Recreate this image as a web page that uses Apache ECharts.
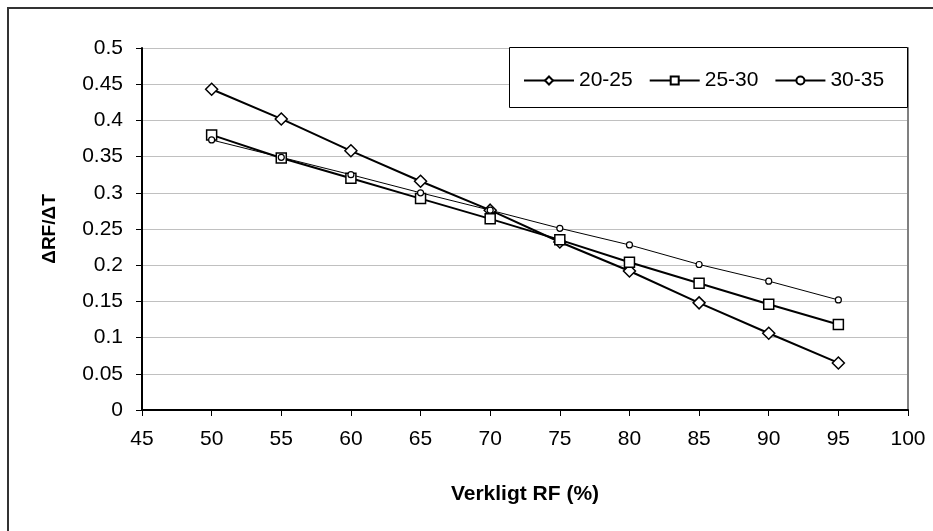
<!DOCTYPE html>
<html>
<head>
<meta charset="utf-8">
<script src="https://cdn.jsdelivr.net/npm/echarts@6/dist/echarts.min.js"></script>
<style>
  html, body { margin: 0; padding: 0; background: #fff; }
  #main { width: 933px; height: 531px; }
</style>
</head>
<body>
<div id="main"></div>
<script>
// x-värden (Verkligt RF %)
var rfValues = [50, 55, 60, 65, 70, 75, 80, 85, 90, 95]
// serier
var s2025 = [0.443, 0.402, 0.358, 0.316, 0.276, 0.232, 0.192, 0.148, 0.106, 0.065]
var s2530 = [0.380, 0.348, 0.320, 0.292, 0.264, 0.235, 0.204, 0.175, 0.146, 0.118]
var s3035 = [0.373, 0.349, 0.325, 0.300, 0.276, 0.251, 0.228, 0.201, 0.178, 0.152]
var seriesNames = ['20-25', '25-30', '30-35']

var font = 'Liberation Sans, Arial, sans-serif'

function pairs(ys) {
  return rfValues.map(function (x, i) { return [x, ys[i]] })
}

var myChart = echarts.init(document.getElementById('main'))
myChart.setOption({
  backgroundColor: '#fff',
  animation: false,
  grid: { left: 142, right: 25, top: 48, bottom: 121 },
  graphic: [
    {
      type: 'rect',
      shape: { x: 8, y: 8, width: 1000, height: 600 },
      style: { fill: 'none', stroke: '#333', lineWidth: 2 }
    },
    {
      type: 'rect',
      shape: { x: 509.5, y: 47.5, width: 398, height: 60 },
      style: { fill: '#fff', stroke: '#000', lineWidth: 1 },
      z: 5
    }
  ],
  legend: {
    left: 518,
    top: 65,
    itemWidth: 50,
    itemHeight: 10,
    itemGap: 16,
    z: 10,
    textStyle: { fontFamily: font, fontSize: 21, color: '#000' },
    data: seriesNames
  },
  xAxis: {
    type: 'value',
    min: 45,
    max: 100,
    interval: 5,
    name: 'Verkligt RF (%)',
    nameLocation: 'middle',
    nameGap: 74,
    nameTextStyle: { fontFamily: font, fontSize: 21, fontWeight: 'bold', color: '#000' },
    axisLine: { lineStyle: { color: '#000', width: 2 } },
    axisTick: { show: true, length: 6, lineStyle: { color: '#000' } },
    axisLabel: { fontFamily: font, fontSize: 21, color: '#000', margin: 19 },
    splitLine: { show: false }
  },
  yAxis: [
    {
      type: 'value',
      min: 0,
      max: 0.5,
      interval: 0.05,
      name: 'ΔRF/ΔT',
      nameLocation: 'middle',
      nameGap: 83,
      nameTextStyle: { fontFamily: font, fontSize: 19, fontWeight: 'bold', color: '#000' },
      axisLine: { show: true, lineStyle: { color: '#000', width: 2 } },
      axisTick: { show: true, length: 6, lineStyle: { color: '#000' } },
      axisLabel: {
        fontFamily: font, fontSize: 21, color: '#000', margin: 19,
        formatter: function (v) { return String(Math.round(v * 100) / 100) }
      },
      splitLine: { show: true, lineStyle: { color: '#c0c0c0', width: 1 } }
    },
    {
      type: 'value',
      min: 0,
      max: 0.5,
      position: 'right',
      axisLine: { show: true, lineStyle: { color: '#808080', width: 2 } },
      axisTick: { show: false },
      axisLabel: { show: false },
      splitLine: { show: false }
    }
  ],
  series: [
    {
      name: seriesNames[0],
      type: 'line',
      data: pairs(s2025),
      symbol: 'diamond',
      symbolSize: 12,
      lineStyle: { color: '#000', width: 2 },
      itemStyle: { color: '#fff', borderColor: '#000', borderWidth: 1.5 },
      z: 3
    },
    {
      name: seriesNames[1],
      type: 'line',
      data: pairs(s2530),
      symbol: 'rect',
      symbolSize: 10,
      lineStyle: { color: '#000', width: 2 },
      itemStyle: { color: '#fff', borderColor: '#000', borderWidth: 1.5 },
      z: 3
    },
    {
      name: seriesNames[2],
      type: 'line',
      data: pairs(s3035),
      symbol: 'circle',
      symbolSize: 6,
      lineStyle: { color: '#000', width: 1 },
      itemStyle: { color: '#fff', borderColor: '#000', borderWidth: 1.2 },
      z: 3
    }
  ]
})
</script>
</body>
</html>
